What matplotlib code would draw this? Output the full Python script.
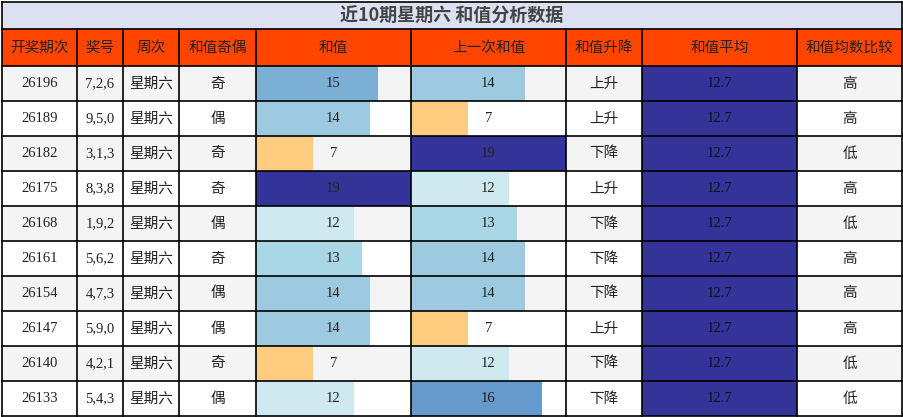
import matplotlib
matplotlib.use("Agg")
import matplotlib.pyplot as plt
from matplotlib.patches import Rectangle

periods = ["26196","26189","26182","26175","26168","26161","26154","26147","26140","26133"]
numbers = ["7,2,6","9,5,0","3,1,3","8,3,8","1,9,2","5,6,2","4,7,3","5,9,0","4,2,1","5,4,3"]
weekday = ["星期六"]*10
parity = ["奇","偶","奇","奇","偶","奇","偶","偶","奇","偶"]
sums = [15,14,7,19,12,13,14,14,7,12]
prev_sums = [14,7,19,12,13,14,14,7,12,16]
trend = ["上升","上升","下降","上升","下降","下降","下降","上升","下降","下降"]
avg = [12.7]*10
compare = ["高","高","低","高","低","高","高","高","低","低"]
headers = ["开奖期次","奖号","周次","和值奇偶","和值","上一次和值","和值升降","和值平均","和值均数比较"]
title = "近10期星期六 和值分析数据"
max_sum = 19

cols = [2,77,123,179,256,411,566,642,797,902]
title_top, head_top, body_top, row_h = 2, 29, 66, 35

def bar_color(v):
    return {19:"#333399",16:"#6699cc",15:"#7bafd4",14:"#9ecae1",13:"#a9d7e6",12:"#cfe9f1",7:"#ffcc80"}.get(v,"#9ecae1")

CJK = ["Noto Sans CJK SC","DejaVu Sans"]
SERIF = ["Liberation Serif","DejaVu Serif"]

fig = plt.figure(figsize=(9.04,4.17), dpi=100)
ax = fig.add_axes([0,0,1,1])
ax.set_xlim(0,904); ax.set_ylim(417,0); ax.axis("off")

ax.add_patch(Rectangle((cols[0],title_top),cols[-1]-cols[0],head_top-title_top,facecolor="#dce1f2",edgecolor="none"))
ax.text(452,(title_top+head_top)/2+1,title,ha="center",va="center",fontsize=13,fontweight="bold",color="#444444",family=["Noto Sans CJK SC","Liberation Serif"])
ax.add_patch(Rectangle((cols[0],head_top),cols[-1]-cols[0],body_top-head_top,facecolor="#ff4500",edgecolor="none"))
for i,h in enumerate(headers):
    ax.text((cols[i]+cols[i+1])/2,(head_top+body_top)/2,h,ha="center",va="center",fontsize=10.5,family=CJK,color="#222222")

for r in range(10):
    y = body_top + r*row_h
    bg = "#f4f4f4" if r%2==0 else "#ffffff"
    ax.add_patch(Rectangle((cols[0],y),cols[-1]-cols[0],row_h,facecolor=bg,edgecolor="none"))
    yc = y+row_h/2
    for ci,val,fam in [(0,periods[r],SERIF),(1,numbers[r],SERIF),(2,weekday[r],CJK),(3,parity[r],CJK),(6,trend[r],CJK),(8,compare[r],CJK)]:
        ax.text((cols[ci]+cols[ci+1])/2,yc,val,ha="center",va="center",fontsize=10.5,family=fam,color="#222222")
    for ci,vals in [(4,sums),(5,prev_sums)]:
        w = cols[ci+1]-cols[ci]
        v = vals[r]
        ax.barh(yc, v/max_sum*w, height=row_h, left=cols[ci], color=bar_color(v), align="center")
        ax.text((cols[ci]+cols[ci+1])/2,yc,str(v),ha="center",va="center",fontsize=10.5,family=SERIF,color="#222222")
    ax.add_patch(Rectangle((cols[7],y),cols[8]-cols[7],row_h,facecolor="#333399",edgecolor="none"))
    ax.text((cols[7]+cols[8])/2,yc,f"{avg[r]}",ha="center",va="center",fontsize=10.5,family=SERIF,color="#111111")

bottom = body_top+10*row_h
for x in cols:
    ax.plot([x,x],[head_top if x not in (cols[0],cols[-1]) else title_top,bottom],color="black",lw=1.2)
for yy in [title_top,head_top,body_top]+[body_top+k*row_h for k in range(1,11)]:
    ax.plot([cols[0],cols[-1]],[yy,yy],color="black",lw=1.2)

fig.savefig("out.png",dpi=100)
